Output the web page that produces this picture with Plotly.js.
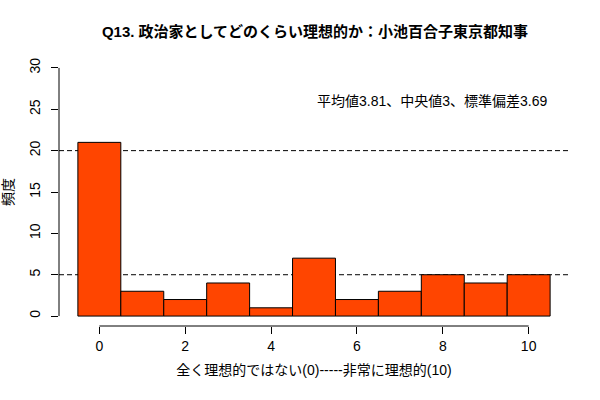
<!DOCTYPE html>
<html><head><meta charset="utf-8">
<script src="https://cdn.plot.ly/plotly-3.0.1.min.js"></script>
<style>html,body{margin:0;padding:0;background:#fff}</style>
</head><body>
<div id="chart" style="width:600px;height:400px"></div>
<script>
const scores = [0,1,2,3,4,5,6,7,8,9,10];
const counts = [21,3,2,4,1,7,2,3,5,4,5];
const refLines = [5,20];
const titleText = "Q13. 政治家としてどのくらい理想的か：小池百合子東京都知事";
const xTitle = "全く理想的ではない(0)-----非常に理想的(10)";
const yTitle = "頻度";
const statsText = "平均値3.81、中央値3、標準偏差3.69";

const jp = '"Liberation Sans", Arial, "Noto Sans CJK JP", sans-serif';
const shapes = refLines.map(v => ({
  type:'line', xref:'paper', yref:'y', x0:0, x1:1, y0:v, y1:v,
  line:{color:'#000', width:1, dash:'5px,3px'}, layer:'below'
}));
shapes.push({type:'line', xref:'paper', yref:'y', x0:0, x1:0, y0:0, y1:30, line:{color:'#000', width:1}});
shapes.push({type:'line', xref:'x', yref:'paper', x0:0, x1:10, y0:0, y1:0, line:{color:'#000', width:1}});

const data = [{
  type:'bar', x:scores, y:counts, width:1,
  marker:{color:'#FF4500', line:{color:'#000', width:1}},
  hoverinfo:'skip'
}];
const layout = {
  width:600, height:400,
  margin:{l:59, r:31, t:58, b:74},
  paper_bgcolor:'#fff', plot_bgcolor:'rgba(0,0,0,0)',
  showlegend:false, bargap:0,
  font:{family:jp, size:13, color:'#000'},
  title:{text:'<b>'+titleText+'</b>', x:0.525, xanchor:'center', y:0.92, yanchor:'middle',
         font:{family:jp, size:15, color:'#000'}},
  xaxis:{range:[-0.94,10.94], tickmode:'array', tickvals:[0,2,4,6,8,10],
         ticks:'outside', ticklen:7, tickcolor:'#000', showgrid:false, zeroline:false, showline:false,
         tickfont:{size:14}, title:{text:xTitle, standoff:12, font:{size:14}}},
  yaxis:{range:[-1.2,31.2], tickmode:'array', tickvals:[0,5,10,15,20,25,30],
         ticks:'outside', ticklen:7, tickcolor:'#000', showgrid:false, zeroline:false, showline:false,
         tickangle:-90, ticklabelstandoff:5, tickfont:{size:14}, title:{text:yTitle, standoff:16, font:{size:14}}},
  shapes:shapes,
  annotations:[{x:7.75, y:26, xref:'x', yref:'y', text:statsText, showarrow:false,
                xanchor:'center', yanchor:'middle', font:{size:14}}]
};
Plotly.newPlot('chart', data, layout, {staticPlot:true, displayModeBar:false});
</script>
</body></html>
